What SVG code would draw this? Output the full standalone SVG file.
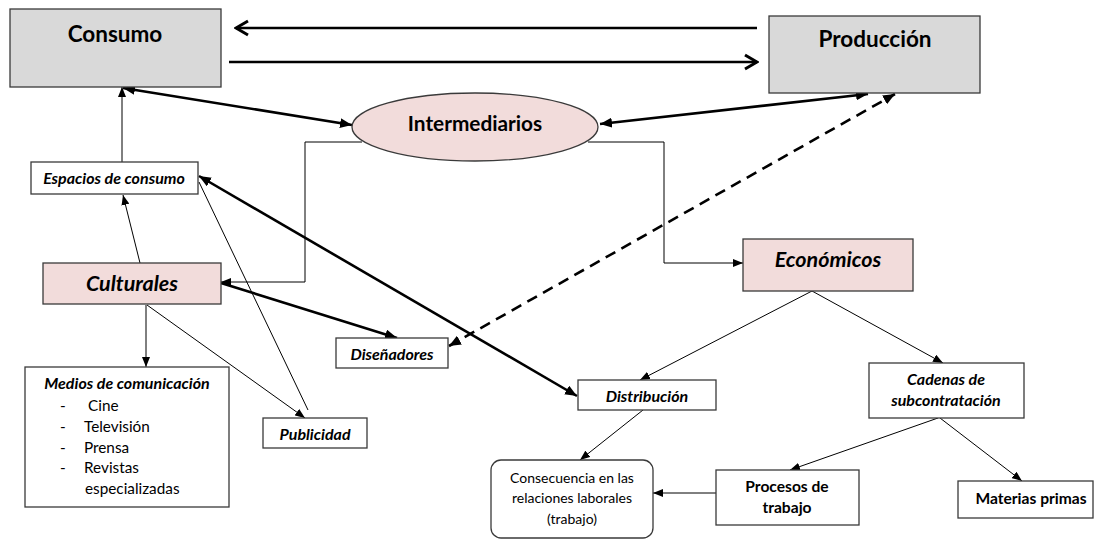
<svg xmlns="http://www.w3.org/2000/svg" width="1096" height="539" viewBox="0 0 1096 539">
<defs>
<style>
.box{stroke:#3a3a3a;stroke-width:1.3;fill:#fff}
.grey{fill:#d9d9d9}
.pink{fill:#f2dcdb}
text{font-family:Lato,"Open Sans","Liberation Sans",sans-serif;fill:#000;text-anchor:middle}
.b{font-weight:bold}
.i{font-style:italic}
.thin{stroke:#000;stroke-width:1;fill:none}
.thick{stroke:#000;stroke-width:2.6;fill:none}
.sm{font-size:16px}
.smb{font-size:15.6px}
.lst{font-size:15.3px;text-anchor:start}
</style>
<marker id="tri" markerUnits="userSpaceOnUse" viewBox="0 0 10 8" markerWidth="10" markerHeight="8" refX="10" refY="4" orient="auto-start-reverse"><path d="M0,0 L10,4 L0,8 z" fill="#000"/></marker>
<marker id="triB" markerUnits="userSpaceOnUse" viewBox="0 0 12 10" markerWidth="12" markerHeight="10" refX="12" refY="5" orient="auto-start-reverse"><path d="M0,0 L12,5 L0,10 z" fill="#000"/></marker>
<marker id="chev" markerUnits="userSpaceOnUse" viewBox="0 0 16 18" markerWidth="16" markerHeight="18" refX="14" refY="9" orient="auto"><path d="M2,2 L14,9 L2,16" fill="none" stroke="#000" stroke-width="3"/></marker>
</defs>

<g id="connectors">
<line class="thick" x1="757" y1="28" x2="236" y2="28" marker-end="url(#chev)"/>
<line class="thick" x1="229" y1="62" x2="757" y2="62" marker-end="url(#chev)"/>
<line class="thick" x1="123" y1="88" x2="352" y2="125" marker-start="url(#triB)" marker-end="url(#triB)"/>
<line class="thick" x1="600" y1="124" x2="868" y2="94" marker-start="url(#triB)" marker-end="url(#triB)"/>
<line class="thick" x1="449" y1="346" x2="895" y2="94" stroke-dasharray="11,7" marker-start="url(#triB)" marker-end="url(#triB)"/>
<polyline class="thin" points="362,142 305,142 305,282 221,282" marker-end="url(#tri)"/>
<polyline class="thin" points="588,142 664,142 664,263 743,263" marker-end="url(#tri)"/>
<line class="thin" x1="122" y1="162" x2="122" y2="87" marker-end="url(#tri)"/>
<line class="thin" x1="140" y1="263" x2="123" y2="195" marker-end="url(#tri)"/>
<line class="thick" x1="199" y1="176" x2="577" y2="396" marker-start="url(#triB)" marker-end="url(#triB)"/>
<line class="thin" x1="199" y1="182" x2="308" y2="410"/>
<line class="thin" x1="147" y1="305" x2="305" y2="418" marker-end="url(#tri)"/>
<line class="thin" x1="146" y1="305" x2="146" y2="367" marker-end="url(#tri)"/>
<line class="thick" x1="221" y1="283" x2="397" y2="338" marker-end="url(#triB)"/>
<line class="thin" x1="812" y1="291" x2="640" y2="380" marker-end="url(#tri)"/>
<line class="thin" x1="812" y1="291" x2="943" y2="363" marker-end="url(#tri)"/>
<line class="thin" x1="938" y1="418" x2="790" y2="470" marker-end="url(#tri)"/>
<line class="thin" x1="940" y1="418" x2="1022" y2="481" marker-end="url(#tri)"/>
<line class="thin" x1="716" y1="493" x2="653" y2="493" marker-end="url(#tri)"/>
<line class="thin" x1="643" y1="410" x2="580" y2="460" marker-end="url(#tri)"/>
</g>

<g id="consumo"><rect class="box grey" x="10" y="9" width="211" height="78"/><text class="b" x="115" y="42" font-size="22.5">Consumo</text></g>
<g id="produccion"><rect class="box grey" x="769" y="16" width="211" height="77"/><text class="b" x="875" y="47" font-size="22.5">Producción</text></g>
<g id="intermediarios"><ellipse class="box pink" cx="475" cy="127" rx="123" ry="34"/><text class="b" x="475" y="131" font-size="20.8">Intermediarios</text></g>
<g id="espacios"><rect class="box" x="31" y="162" width="167" height="32"/><text class="b i sm" x="114" y="184">Espacios de consumo</text></g>
<g id="culturales"><rect class="box pink" x="43" y="263" width="178" height="41"/><text class="b i" x="132" y="291" font-size="21.5">Culturales</text></g>
<g id="medios"><rect class="box" x="25" y="367" width="204" height="140"/>
<text class="b i sm" x="127" y="389">Medios de comunicación</text>
<text class="lst" x="60" y="411">-</text><text class="lst" x="88" y="411">Cine</text>
<text class="lst" x="60" y="432">-</text><text class="lst" x="84" y="432">Televisión</text>
<text class="lst" x="60" y="453">-</text><text class="lst" x="84" y="453">Prensa</text>
<text class="lst" x="60" y="473">-</text><text class="lst" x="84" y="473">Revistas</text>
<text class="lst" x="85" y="494">especializadas</text>
</g>
<g id="publicidad"><rect class="box" x="263" y="418" width="104" height="30"/><text class="b i sm" x="315" y="440">Publicidad</text></g>
<g id="disenadores"><rect class="box" x="336" y="338" width="112" height="30"/><text class="b i sm" x="392" y="360">Diseñadores</text></g>
<g id="distribucion"><rect class="box" x="578" y="380" width="138" height="30"/><text class="b i sm" x="647" y="402">Distribución</text></g>
<g id="economicos"><rect class="box pink" x="743" y="239" width="170" height="52"/><text class="b i" x="828" y="267" font-size="21.5">Económicos</text></g>
<g id="cadenas"><rect class="box" x="869" y="363" width="155" height="55"/><text class="b i sm" x="946" y="385">Cadenas de</text><text class="b i sm" x="946" y="406">subcontratación</text></g>
<g id="procesos"><rect class="box" x="716" y="470" width="143" height="55"/><text class="b smb" x="787" y="492">Procesos de</text><text class="b smb" x="787" y="513">trabajo</text></g>
<g id="materias"><rect class="box" x="958" y="481" width="135" height="37"/><text class="b smb" x="1031" y="504">Materias primas</text></g>
<g id="consecuencia"><rect class="box" x="491" y="460" width="162" height="78" rx="10"/><text x="572" y="483" font-size="14">Consecuencia en las</text><text x="572" y="503" font-size="14">relaciones laborales</text><text x="572" y="524" font-size="14">(trabajo)</text></g>
</svg>
